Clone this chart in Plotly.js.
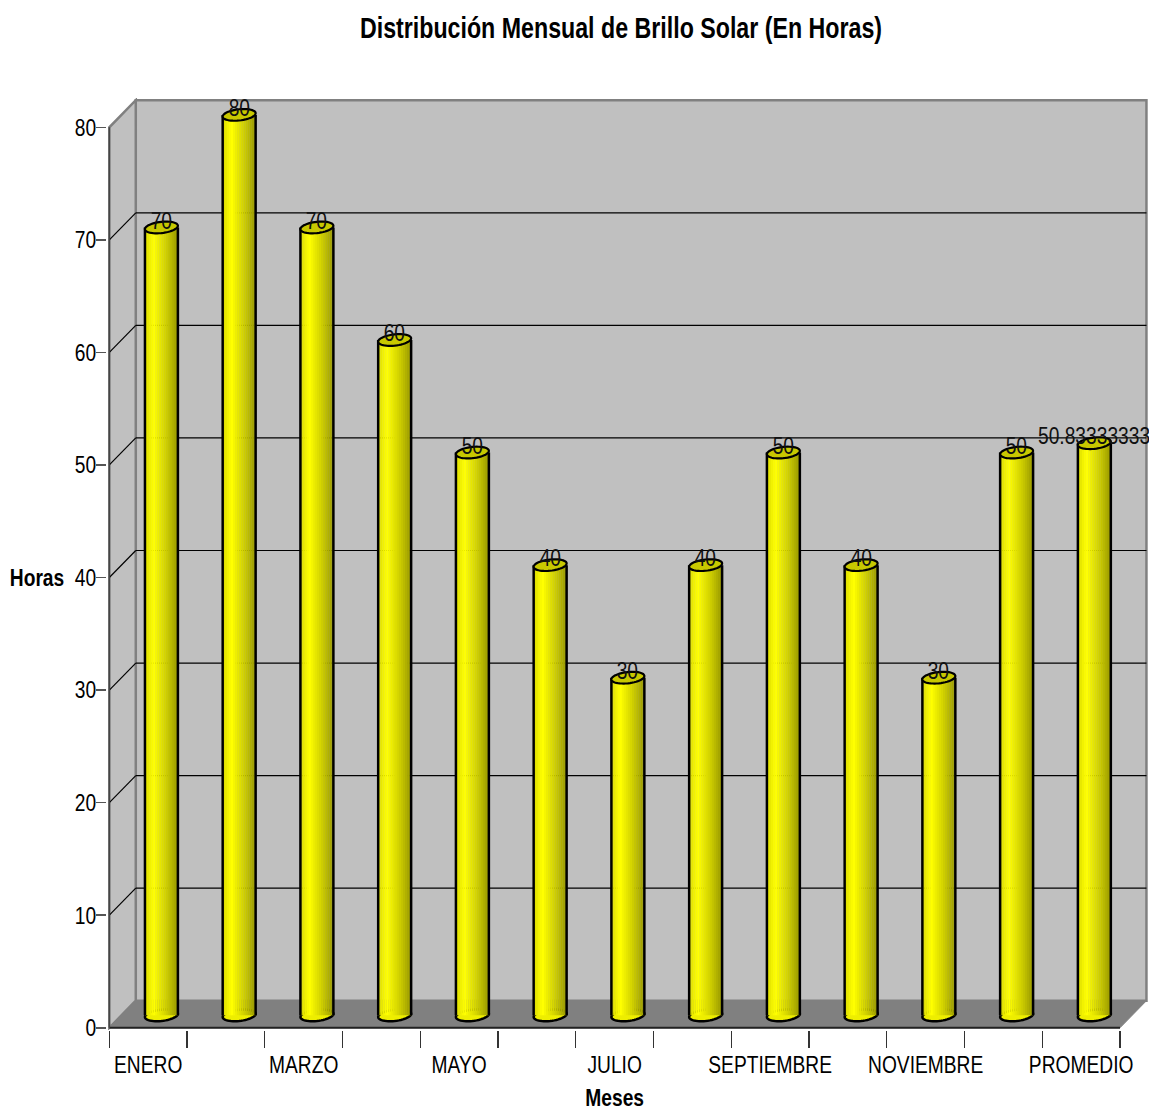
<!DOCTYPE html>
<html><head><meta charset="utf-8">
<script src="https://cdn.plot.ly/plotly-3.0.1.min.js"></script>
<style>html,body{margin:0;padding:0;background:#fff}#c{width:1149px;height:1108px}</style>
</head><body><div id="c"></div>
<script>
const months = ["ENERO","FEBRERO","MARZO","ABRIL","MAYO","JUNIO","JULIO","AGOSTO","SEPTIEMBRE","OCTUBRE","NOVIEMBRE","DICIEMBRE","PROMEDIO"];
const hours = [70,80,70,60,50,40,30,40,50,40,30,50,50.83333333];
const shownLabels = ["ENERO","","MARZO","","MAYO","","JULIO","","SEPTIEMBRE","","NOVIEMBRE","","PROMEDIO"];
const yTicks = [0,10,20,30,40,50,60,70,80];
const gradient = ["#dede00","#e8e800","#f2f200","#fafa00","#ffff00","#f6f600","#eeee00","#e6e600","#dede00","#d6d600","#cdcd00","#c4c400","#baba00","#b0b000","#a6a600","#9a9a00"];

const FONT = "'Liberation Sans',Arial,sans-serif";
const idx = months.map((_,i)=>i);
const depthX = 0.34, depthY = 2.4, shiftX = 0.17, baseY = 1.1;
const halfW = 0.212, capH = 0.5, capTilt = 0.7, edge = 0.032;
const xMin = -0.5, xMax = 12.5;

const traces = [];
const stripW = (2*halfW)/gradient.length;
gradient.forEach((col,k)=>{
  traces.push({type:"bar",x:idx.map(i=>i+shiftX),y:hours,base:hours.map(()=>baseY),
    width:stripW+0.004,offset:-halfW+k*stripW,marker:{color:col,line:{width:0}},
    hoverinfo:"skip",showlegend:false});
});
[-halfW-edge/2, halfW-edge/2].forEach(off=>{
  traces.push({type:"bar",x:idx.map(i=>i+shiftX),y:hours,base:hours.map(()=>baseY),
    width:edge,offset:off,marker:{color:"#000",line:{width:0}},hoverinfo:"skip",showlegend:false});
});

const shapes = [];
const P = (pts)=>"M"+pts.map(p=>p[0].toFixed(4)+","+p[1].toFixed(4)).join("L")+"Z";
function cap(cx,cy){
  const pts=[];
  for(let a=0;a<48;a++){
    const t=a/48*2*Math.PI, dx=halfW*Math.cos(t);
    pts.push([cx+dx, cy+capH*Math.sin(t)+capTilt*dx]);
  }
  return P(pts);
}
shapes.push({type:"rect",layer:"below",x0:xMin+depthX,x1:xMax+depthX,y0:depthY,y1:80+depthY,fillcolor:"#c0c0c0",line:{color:"#808080",width:2.5}});
shapes.push({type:"path",layer:"below",path:P([[xMin,0],[xMin+depthX,depthY],[xMin+depthX,80+depthY],[xMin,80]]),fillcolor:"#c0c0c0",line:{color:"#808080",width:2.5}});
shapes.push({type:"path",layer:"below",path:P([[xMin,0],[xMax,0],[xMax+depthX,depthY],[xMin+depthX,depthY]]),fillcolor:"#808080",line:{color:"#808080",width:1}});
yTicks.slice(1,-1).forEach(t=>{
  shapes.push({type:"line",layer:"below",x0:xMin+depthX,x1:xMax+depthX,y0:t+depthY,y1:t+depthY,line:{color:"#000",width:1.2}});
  shapes.push({type:"line",layer:"below",x0:xMin,x1:xMin+depthX,y0:t,y1:t+depthY,line:{color:"#000",width:1.2}});
});
shapes.push({type:"line",layer:"below",x0:xMin,x1:xMax,y0:0,y1:0,line:{color:"#222",width:2}});
shapes.push({type:"line",layer:"below",x0:xMin,x1:xMin,y0:0,y1:80,line:{color:"#444",width:1.5}});
idx.forEach(i=>{
  const cx=i+shiftX;
  shapes.push({type:"path",layer:"below",path:cap(cx,baseY),fillcolor:"#eeee00",line:{color:"#000",width:2.5}});
  shapes.push({type:"path",layer:"above",path:cap(cx,hours[i]+baseY),fillcolor:"#c8c800",line:{color:"#000",width:2.2}});
});

const PW=1041.33, PH=932.5, PL=106.67, PB=1030.25;
const annotations = [
  {text:"<b>Horas</b>",xref:"paper",yref:"paper",x:(36.5-PL)/PW,y:(PB-578)/PH,showarrow:false,xanchor:"center",yanchor:"middle",font:{family:FONT,size:24,color:"#000"}},
  {text:"<b>Meses</b>",xref:"paper",yref:"paper",x:(614-PL)/PW,y:(PB-1098)/PH,showarrow:false,xanchor:"center",yanchor:"middle",font:{family:FONT,size:24,color:"#000"}}
];
idx.forEach(i=>{
  annotations.push({text:String(hours[i]),xref:"x",yref:"y",x:i+shiftX,y:hours[i]+baseY+0.65,showarrow:false,
    xanchor:"center",yanchor:"middle",font:{family:FONT,size:24,color:"#111"}});
});

const layout = {
  width:1149,height:1108,showlegend:false,barmode:"overlay",
  paper_bgcolor:"#fff",plot_bgcolor:"#fff",
  margin:{l:PL,r:1,t:97.75,b:77.75,pad:0},
  title:{text:"<b>Distribución Mensual de Brillo Solar (En Horas)</b>",x:621/1149,xref:"container",xanchor:"center",
    y:1-28/1108,yref:"container",yanchor:"middle",font:{family:FONT,size:29,color:"#000"}},
  xaxis:{type:"linear",range:[-0.53,12.86],showgrid:false,zeroline:false,showline:false,
    tickmode:"array",tickvals:idx,ticktext:shownLabels,ticks:"",tickangle:0,ticklabelstandoff:18,
    tickfont:{family:FONT,size:24,color:"#000"},
    minor:{tickmode:"array",tickvals:[...idx.map(i=>i-0.5),12.5],ticks:"outside",ticklen:17,tickwidth:1.2,tickcolor:"#333",showgrid:false}},
  yaxis:{type:"linear",range:[-0.2,82.6],showgrid:false,zeroline:false,showline:false,
    tickmode:"array",tickvals:yTicks,ticks:"outside",ticklen:10,tickwidth:1.5,tickcolor:"#555",ticklabelstandoff:-5,
    tickfont:{family:FONT,size:24,color:"#000"}},
  shapes,annotations
};
const NARROW = 0.8;
Plotly.newPlot("c",traces,layout,{displayModeBar:false,staticPlot:true}).then(gd=>{
  gd.querySelectorAll("svg text").forEach(t=>{
    if(!t.textContent.trim()) return;
    const w=t.getComputedTextLength();
    t.setAttribute("textLength",(w*NARROW).toFixed(2));
    t.setAttribute("lengthAdjust","spacingAndGlyphs");
  });
});
</script></body></html>
